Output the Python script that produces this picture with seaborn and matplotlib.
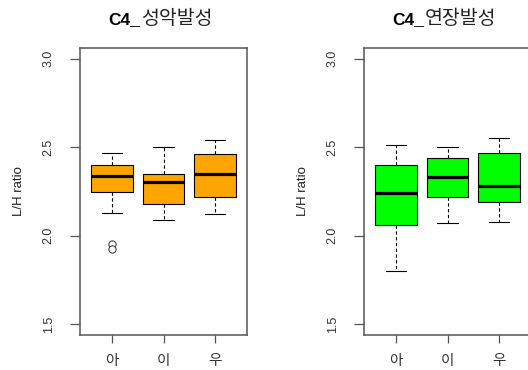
import numpy as np
import pandas as pd
import matplotlib
matplotlib.use("Agg")
import matplotlib.pyplot as plt
import seaborn as sns

# ---- data ----
groups = ["아", "이", "우"]

# left panel: C4_성악발성
left_lo = [2.13, 2.09, 2.125]
left_q1 = [2.25, 2.18, 2.22]
left_med = [2.34, 2.305, 2.35]
left_q3 = [2.40, 2.35, 2.46]
left_hi = [2.47, 2.50, 2.54]
left_out_group = ["아", "아"]
left_out_vals = [1.952, 1.926]

# right panel: C4_연장발성
right_lo = [1.80, 2.07, 2.08]
right_q1 = [2.06, 2.22, 2.19]
right_med = [2.24, 2.33, 2.28]
right_q3 = [2.40, 2.44, 2.47]
right_hi = [2.51, 2.50, 2.55]

titles_prefix = ["C4_", "C4_"]
titles_korean = ["성악발성", "연장발성"]
y_ticks = [1.5, 2.0, 2.5, 3.0]
y_ticklabels = ["1.5", "2.0", "2.5", "3.0"]
y_label = "L/H ratio"


def summary_frame(lo, q1, med, q3, hi):
    rows = []
    for g, a, b, c, d, e in zip(groups, lo, q1, med, q3, hi):
        for v in (a, b, c, d, e):
            rows.append({"group": g, "value": v})
    return pd.DataFrame(rows)


sns.set_theme(style="white")
plt.rcParams["font.family"] = ["Liberation Sans", "Noto Sans CJK KR", "DejaVu Sans"]

fig = plt.figure(figsize=(5.28, 3.70), dpi=100)
W, H = 528, 370
ax_w, ax_h = 167, 287
ax_top = 48
lefts = [80, 364]
axes = [fig.add_axes([l / W, (H - ax_top - ax_h) / H, ax_w / W, ax_h / H]) for l in lefts]

panels = [
    (summary_frame(left_lo, left_q1, left_med, left_q3, left_hi), "orange",
     pd.DataFrame({"group": left_out_group, "value": left_out_vals})),
    (summary_frame(right_lo, right_q1, right_med, right_q3, right_hi), "#00FF00", None),
]

for i, (ax, (df, col, outl)) in enumerate(zip(axes, panels)):
    sns.boxplot(data=df, x="group", y="value", order=groups, ax=ax,
                color=col, saturation=1, width=0.8, whis=(0, 100),
                linecolor="black", linewidth=0.8, fliersize=0,
                medianprops=dict(linewidth=2.3, color="black"),
                whiskerprops=dict(linestyle=(0, (3.0, 2.2)), linewidth=0.8),
                capprops=dict(linewidth=0.8))
    if outl is not None:
        sns.stripplot(data=outl, x="group", y="value", order=groups, ax=ax,
                      jitter=False, color="white", edgecolor="#444444",
                      linewidth=0.8, size=5.2)
        ax.collections[-1].set_facecolor("none")
    ax.set_xlim(-0.62, 2.62)
    ax.set_ylim(1.44, 3.06)
    ax.set_xlabel("")
    ax.set_ylabel(y_label, fontsize=9.5, color="#222222")
    ax.yaxis.set_label_coords(-0.33, 0.5)
    ax.set_yticks(y_ticks)
    ax.set_yticklabels(y_ticklabels, rotation=90, va="center", fontsize=9, color="#333333")
    ax.set_xticks(range(len(groups)))
    ax.set_xticklabels(groups, fontsize=10.5, color="#333333")
    ax.tick_params(axis="y", direction="out", length=7.2, width=0.9, pad=11, color="#555555", left=True)
    ax.tick_params(axis="x", direction="out", length=5.8, width=0.9, pad=8, color="#555555", bottom=True)
    for s in ax.spines.values():
        s.set_visible(True)
        s.set_color("#555555")
        s.set_linewidth(1.1)
    ax.grid(False)
    # title: bold Latin prefix + Korean part
    ty = 1 + 24 / ax_h
    split_x = (140 - 80) / ax_w
    ax.text(split_x, ty, titles_prefix[i], transform=ax.transAxes, ha="right", va="baseline",
            fontsize=12.5, fontweight="bold", color="black")
    ax.text(split_x + 1 / ax_w, ty, titles_korean[i], transform=ax.transAxes, ha="left", va="baseline",
            fontsize=14, fontweight="medium", color="#222222")

fig.savefig("out.png", dpi=100)
